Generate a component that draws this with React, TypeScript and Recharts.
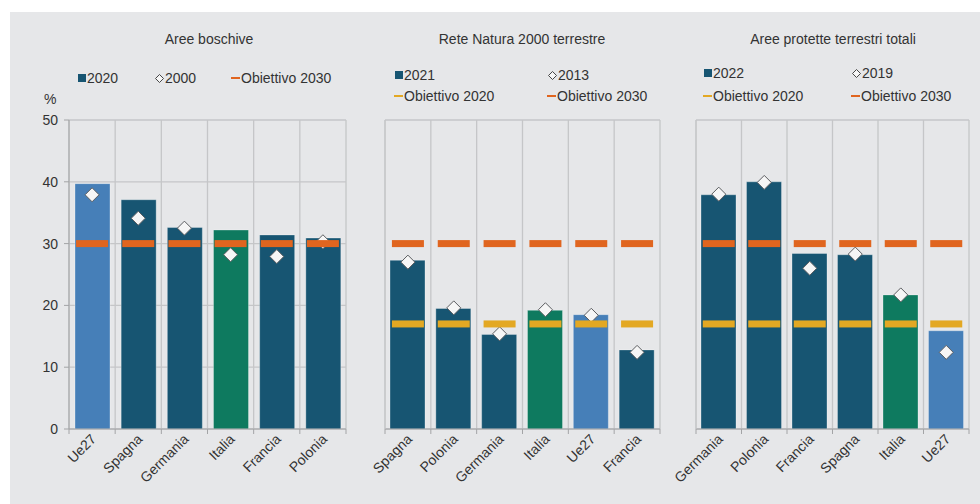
import {
  ComposedChart,
  Bar,
  Scatter,
  XAxis,
  YAxis,
  CartesianGrid,
  Cell,
} from "recharts";

const FONT = '"Liberation Sans", Arial, sans-serif';
const INK = "#333333";
const BG = "#e6e7e9";
const GRID = "#c5c6c8";
const AXIS = "#a3a4a6";
const DARK = "#175572";
const LIGHT = "#467fb8";
const GREEN = "#0e7a5f";
const ORANGE = "#e0651f";
const YELLOW = "#e3a823";

const Y_TICKS = [0, 10, 20, 30, 40, 50];

// Aree boschive
const forestCountries = ["Ue27", "Spagna", "Germania", "Italia", "Francia", "Polonia"];
const forest2020 = [39.7, 37.1, 32.6, 32.2, 31.4, 30.9];
const forest2000 = [37.9, 34.1, 32.5, 28.2, 27.9, 30.3];
const forestTarget2030 = [30, 30, 30, 30, 30, 30];

// Rete Natura 2000 terrestre
const naturaCountries = ["Spagna", "Polonia", "Germania", "Italia", "Ue27", "Francia"];
const natura2021 = [27.3, 19.5, 15.3, 19.2, 18.5, 12.8];
const natura2013 = [27.0, 19.6, 15.4, 19.3, 18.4, 12.4];
const naturaTarget2020 = [17, 17, 17, 17, 17, 17];
const naturaTarget2030 = [30, 30, 30, 30, 30, 30];

// Aree protette terrestri totali
const protectedCountries = ["Germania", "Polonia", "Francia", "Spagna", "Italia", "Ue27"];
const protected2022 = [37.9, 40.0, 28.4, 28.2, 21.7, 15.9];
const protected2019 = [38.0, 39.9, 26.0, 28.3, 21.7, 12.4];
const protectedTarget2020 = [17, 17, 17, 17, 17, 17];
const protectedTarget2030 = [30, 30, 30, 30, 30, 30];

type Row = { name: string; bar: number; dot: number; t2020?: number; t2030: number };

function rows(names: string[], bar: number[], dot: number[], t2030: number[], t2020?: number[]): Row[] {
  return names.map((name, i) => ({
    name,
    bar: bar[i],
    dot: dot[i],
    t2030: t2030[i],
    t2020: t2020 ? t2020[i] : undefined,
  }));
}

function barColor(name: string) {
  if (name === "Ue27") return LIGHT;
  if (name === "Italia") return GREEN;
  return DARK;
}

const Diamond = (p: any) => {
  const { cx, cy } = p;
  if (cx == null || cy == null) return <g />;
  const r = 7;
  return (
    <path
      d={`M${cx},${cy - r}L${cx + r},${cy}L${cx},${cy + r}L${cx - r},${cy}Z`}
      fill="#f6f6f6"
      stroke="#5b5d60"
      strokeWidth={1}
    />
  );
};

const dash = (color: string) => (p: any) => {
  const { cx, cy } = p;
  if (cx == null || cy == null) return <g />;
  return <rect x={cx - 16} y={cy - 3.5} width={32} height={7} fill={color} />;
};

function makeTick(band: number, count: number) {
  return (props: any) => {
    const { x, y, payload, index } = props;
    const lx = x + 5;
    const ly = y + 11;
    return (
      <g>
        <line x1={x - band / 2} x2={x - band / 2} y1={y} y2={y + 5} stroke={AXIS} />
        {index === count - 1 && (
          <line x1={x + band / 2} x2={x + band / 2} y1={y} y2={y + 5} stroke={AXIS} />
        )}
        <text
          x={lx}
          y={ly}
          transform={`rotate(-45, ${lx}, ${ly})`}
          textAnchor="end"
          fontSize={14}
          fontFamily={FONT}
          fill={INK}
        >
          {payload.value}
        </text>
      </g>
    );
  };
}

type PanelProps = {
  data: Row[];
  left: number;
  width: number;
  yWidth: number;
  marginRight: number;
  showY: boolean;
};

function Panel({ data, left, width, yWidth, marginRight, showY }: PanelProps) {
  const height = 404;
  const plotW = width - yWidth - marginRight;
  const band = plotW / data.length;
  return (
    <div style={{ position: "absolute", left, top: 100 }}>
      <ComposedChart
        width={width}
        height={height}
        data={data}
        margin={{ top: 20, right: marginRight, left: 0, bottom: 0 }}
      >
        <CartesianGrid
          stroke={GRID}
          strokeWidth={1.3}
          verticalCoordinatesGenerator={({ offset }: any) =>
            data.map((_, i) => offset.left + i * band).concat([offset.left + plotW])
          }
        />
        <XAxis
          dataKey="name"
          height={75}
          interval={0}
          tickSize={0}
          tickMargin={0}
          tickLine={false}
          axisLine={{ stroke: AXIS }}
          tick={makeTick(band, data.length)}
        />
        <YAxis
          width={yWidth}
          domain={[0, 50]}
          ticks={Y_TICKS}
          interval={0}
          axisLine={{ stroke: showY ? AXIS : GRID }}
          tickLine={showY ? { stroke: AXIS } : false}
          tickSize={5}
          tickMargin={6}
          tick={showY ? { fill: INK, fontSize: 14, fontFamily: FONT } : false}
        />
        <Bar dataKey="bar" barSize={35} isAnimationActive={false} stroke="#ffffff" strokeOpacity={0.3}>
          {data.map((d) => (
            <Cell key={d.name} fill={barColor(d.name)} />
          ))}
        </Bar>
        <Scatter dataKey="dot" shape={Diamond} isAnimationActive={false} />
        {data[0].t2020 !== undefined && (
          <Scatter dataKey="t2020" shape={dash(YELLOW)} isAnimationActive={false} />
        )}
        <Scatter dataKey="t2030" shape={dash(ORANGE)} isAnimationActive={false} />
      </ComposedChart>
    </div>
  );
}

type Marker = "square" | "diamond" | "orange" | "yellow";

function LegendItem({ x, y, marker, label }: { x: number; y: number; marker: Marker; label: string }) {
  let m: any;
  if (marker === "square") {
    m = <div style={{ width: 8, height: 8, background: DARK }} />;
  } else if (marker === "diamond") {
    m = (
      <svg width={9} height={9} style={{ display: "block" }}>
        <path d="M4.5,0.5L8.5,4.5L4.5,8.5L0.5,4.5Z" fill="#f6f6f6" stroke="#333" strokeWidth={0.9} />
      </svg>
    );
  } else {
    m = <div style={{ width: 9, height: 2.5, background: marker === "orange" ? ORANGE : YELLOW }} />;
  }
  return (
    <div
      style={{
        position: "absolute",
        left: x,
        top: y - 9,
        height: 18,
        display: "flex",
        alignItems: "center",
        gap: 1,
        fontSize: 14,
        fontFamily: FONT,
        color: INK,
        whiteSpace: "nowrap",
      }}
    >
      {m}
      <span>{label}</span>
    </div>
  );
}

function Title({ cx, text }: { cx: number; text: string }) {
  return (
    <div
      style={{
        position: "absolute",
        left: cx - 150,
        width: 300,
        top: 31,
        textAlign: "center",
        fontSize: 14,
        fontFamily: FONT,
        color: INK,
      }}
    >
      {text}
    </div>
  );
}

export default function App() {
  return (
    <div style={{ position: "absolute", left: 0, top: 0, width: 980, height: 504, background: "#fff", overflow: "hidden" }}>
      <div style={{ position: "absolute", left: 10, top: 12, width: 970, height: 492, background: BG }} />

      <Title cx={209} text="Aree boschive" />
      <Title cx={522} text="Rete Natura 2000 terrestre" />
      <Title cx={833} text="Aree protette terrestri totali" />

      <LegendItem x={78} y={78} marker="square" label="2020" />
      <LegendItem x={155} y={78} marker="diamond" label="2000" />
      <LegendItem x={231} y={78} marker="orange" label="Obiettivo 2030" />

      <LegendItem x={395} y={75} marker="square" label="2021" />
      <LegendItem x={548} y={75} marker="diamond" label="2013" />
      <LegendItem x={394} y={96} marker="yellow" label="Obiettivo 2020" />
      <LegendItem x={547} y={96} marker="orange" label="Obiettivo 2030" />

      <LegendItem x={704} y={73} marker="square" label="2022" />
      <LegendItem x={852} y={73} marker="diamond" label="2019" />
      <LegendItem x={703} y={96} marker="yellow" label="Obiettivo 2020" />
      <LegendItem x={851} y={96} marker="orange" label="Obiettivo 2030" />

      <div
        style={{ position: "absolute", left: 44, top: 91, fontSize: 14, fontFamily: FONT, color: INK }}
      >
        %
      </div>

      <Panel
        data={rows(forestCountries, forest2020, forest2000, forestTarget2030)}
        left={20}
        width={340}
        yWidth={49}
        marginRight={14}
        showY
      />
      <Panel
        data={rows(naturaCountries, natura2021, natura2013, naturaTarget2030, naturaTarget2020)}
        left={345}
        width={330}
        yWidth={40}
        marginRight={15}
        showY={false}
      />
      <Panel
        data={rows(protectedCountries, protected2022, protected2019, protectedTarget2030, protectedTarget2020)}
        left={656}
        width={320}
        yWidth={40}
        marginRight={7}
        showY={false}
      />
    </div>
  );
}
